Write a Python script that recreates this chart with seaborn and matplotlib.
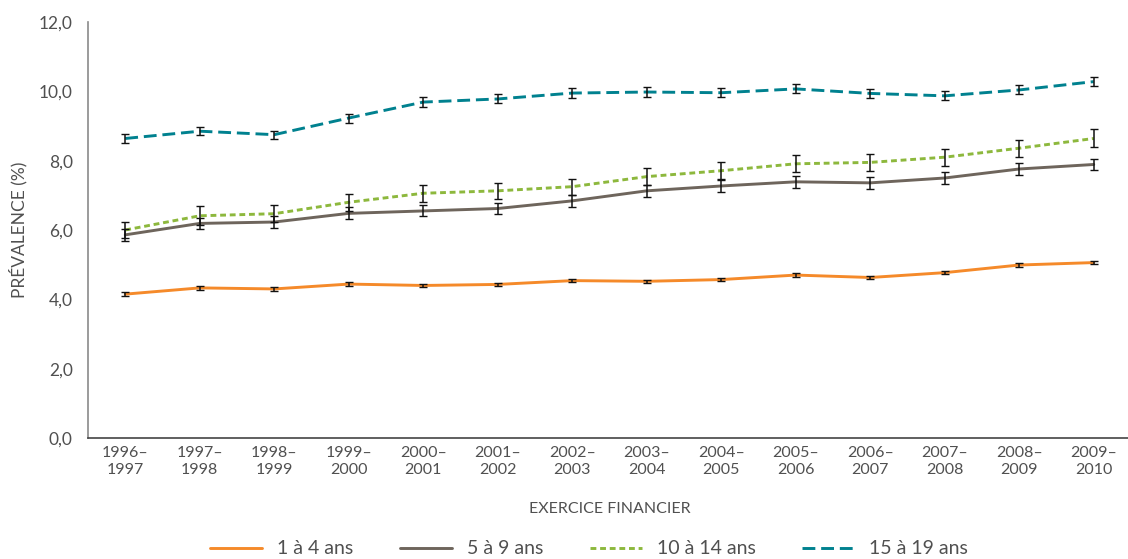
import numpy as np
import pandas as pd
import matplotlib
matplotlib.use("Agg")
import matplotlib.pyplot as plt
import seaborn as sns

# Fiscal years (two-line tick labels)
periods = ["1996–\n1997", "1997–\n1998", "1998–\n1999", "1999–\n2000", "2000–\n2001",
           "2001–\n2002", "2002–\n2003", "2003–\n2004", "2004–\n2005", "2005–\n2006",
           "2006–\n2007", "2007–\n2008", "2008–\n2009", "2009–\n2010"]

# Prevalence (%) by age group
age_1_4 = [4.15, 4.33, 4.30, 4.44, 4.40, 4.43, 4.54, 4.52, 4.57, 4.70, 4.63, 4.77, 4.99, 5.06]
age_5_9 = [5.86, 6.19, 6.23, 6.48, 6.55, 6.62, 6.84, 7.13, 7.27, 7.39, 7.36, 7.50, 7.76, 7.89]
age_10_14 = [6.00, 6.41, 6.47, 6.80, 7.06, 7.13, 7.25, 7.54, 7.71, 7.91, 7.95, 8.10, 8.36, 8.64]
age_15_19 = [8.64, 8.85, 8.75, 9.23, 9.69, 9.78, 9.95, 9.98, 9.96, 10.07, 9.94, 9.87, 10.04, 10.28]

# Half-width of the 95% confidence intervals
err_1_4 = [0.05, 0.05, 0.05, 0.05, 0.05, 0.05, 0.05, 0.05, 0.05, 0.05, 0.05, 0.05, 0.05, 0.05]
err_5_9 = [0.17, 0.16, 0.16, 0.17, 0.16, 0.16, 0.17, 0.17, 0.17, 0.17, 0.17, 0.16, 0.16, 0.17]
err_10_14 = [0.23, 0.27, 0.25, 0.25, 0.24, 0.23, 0.23, 0.25, 0.25, 0.25, 0.25, 0.25, 0.24, 0.26]
err_15_19 = [0.13, 0.12, 0.12, 0.13, 0.14, 0.13, 0.14, 0.14, 0.13, 0.13, 0.13, 0.13, 0.13, 0.13]

labels = ["1 à 4 ans", "5 à 9 ans", "10 à 14 ans", "15 à 19 ans"]
colors = ["#F58A2A", "#6E655C", "#8DB83D", "#00818F"]
dash_styles = [None, None, (2.0, 1.3), (4.4, 2.0)]

sns.set_theme(style="white")
plt.rcParams["font.family"] = ["Lato", "DejaVu Sans"]
text_color = "#505050"

fig = plt.figure(figsize=(11.28, 5.59), dpi=100)
ax = fig.add_axes([88 / 1128, 1 - 438 / 559, (1131 - 88) / 1128, (438 - 22) / 559])

x = np.arange(len(periods))
series = [age_1_4, age_5_9, age_10_14, age_15_19]
errors = [err_1_4, err_5_9, err_10_14, err_15_19]

handles = []
for vals, errs, lab, col, dsh in zip(series, errors, labels, colors, dash_styles):
    df = pd.DataFrame({"x": x, "y": vals})
    kws = dict(color=col, linewidth=2.1, label=lab)
    if dsh is not None:
        kws["dashes"] = dsh
    sns.lineplot(data=df, x="x", y="y", ax=ax, legend=False, **kws)
    handles.append(ax.get_lines()[-1])

for vals, errs in zip(series, errors):
    ax.errorbar(x, vals, yerr=errs, fmt="none", ecolor="#111111",
                elinewidth=1.1, capsize=2.6, capthick=1.0, zorder=5)

ax.set_xlim(-0.5, len(periods) - 0.5)
ax.set_ylim(0, 12)

# Boundary ticks between fiscal years, labels centred on each year
ax.set_xticks(np.arange(-0.5, len(periods), 1.0))
ax.set_xticklabels([])
ax.set_xticks(x, minor=True)
ax.set_xticklabels(periods, minor=True, fontsize=11.5, color=text_color, linespacing=1.2)
ax.tick_params(axis="x", which="major", direction="in", length=7.5, width=1.0, color="#555555")
ax.tick_params(axis="x", which="minor", length=0, pad=6)

yt = np.arange(0, 12.1, 2)
ax.set_yticks(yt)
ax.set_yticklabels([f"{v:.1f}".replace(".", ",") for v in yt], fontsize=12.5, color=text_color)
ax.tick_params(axis="y", direction="in", length=9, width=1.0, color="#8a8a8a", pad=11)

for s in ["top", "right"]:
    ax.spines[s].set_visible(False)
ax.spines["left"].set_color("#8a8a8a")
ax.spines["left"].set_linewidth(1.2)
ax.spines["bottom"].set_color("#444444")
ax.spines["bottom"].set_linewidth(1.2)

ax.set_xlabel("EXERCICE FINANCIER", fontsize=11.5, color=text_color, labelpad=18)
ax.set_ylabel("PRÉVALENCE (%)", fontsize=12.5, color=text_color, labelpad=8)

fig.legend(handles=handles, labels=labels, loc="center", bbox_to_anchor=(589 / 1128, 10 / 559),
           ncol=4, frameon=False, fontsize=14, handlelength=2.7, handletextpad=0.75,
           columnspacing=2.4, labelcolor=text_color)

fig.savefig("out.png", dpi=100, facecolor="white")
